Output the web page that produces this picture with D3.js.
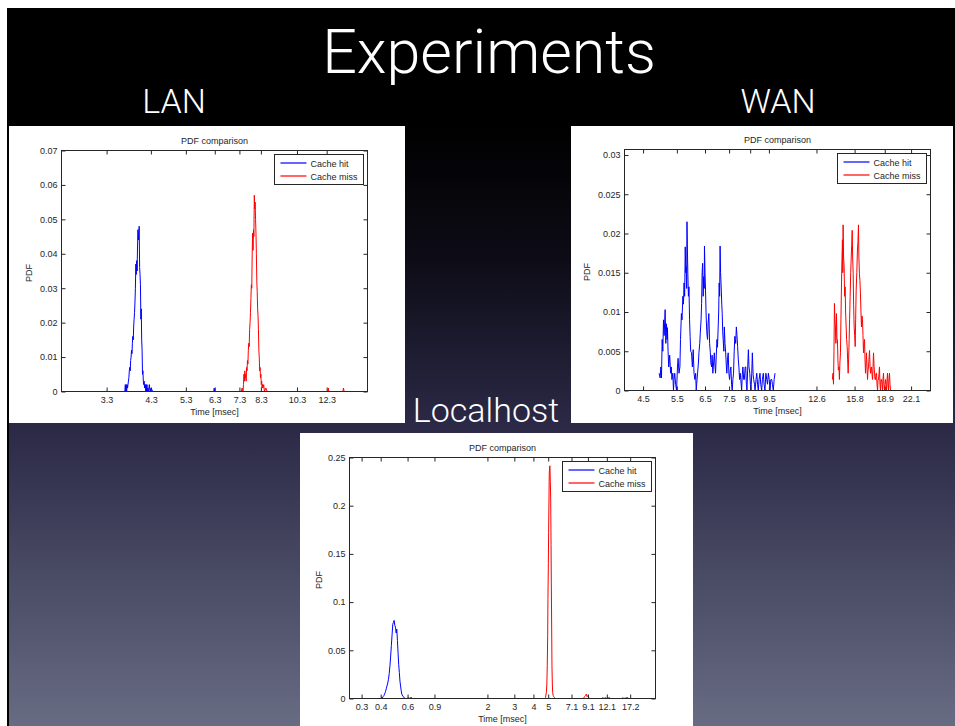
<!DOCTYPE html>
<html><head><meta charset="utf-8">
<script src="https://cdn.jsdelivr.net/npm/d3@7"></script>
<style>body{margin:0;background:#fff;overflow:hidden;} svg{display:block;}</style>
</head><body>
<svg id="c" width="955" height="726"></svg>
<script>
// ---------------- DATA ----------------
const seriesNames = ["Cache hit", "Cache miss"];

// LAN  [time msec, pdf]
const lanHit = [[3.68,0],[3.69,0.002],[3.70,0],[3.71,0.002],[3.72,0],[3.73,0.002],[3.74,0.001],[3.75,0.002],[3.76,0.003],[3.77,0.004],
[3.78,0.006],[3.79,0.007],[3.80,0.006],[3.81,0.009],[3.82,0.010],[3.83,0.012],[3.84,0.011],[3.85,0.014],[3.86,0.016],[3.87,0.015],
[3.88,0.019],[3.89,0.021],[3.90,0.023],[3.91,0.026],[3.92,0.030],[3.93,0.037],[3.94,0.034],[3.95,0.038],[3.96,0.035],[3.97,0.042],
[3.98,0.047],[3.99,0.044],[4.00,0.046],[4.01,0.048],[4.02,0.036],[4.03,0.034],[4.04,0.031],[4.05,0.021],[4.06,0.024],[4.07,0.015],
[4.08,0.012],[4.09,0.005],[4.10,0.006],[4.11,0.003],[4.12,0.002],[4.13,0.003],[4.14,0.001],[4.15,0.002],[4.16,0.002],[4.17,0],
[4.18,0.002],[4.19,0],[4.20,0.002],[4.21,0],[4.22,0.001],[4.24,0],[4.26,0.002],[4.28,0],[4.30,0.001],[4.35,0],
[5.00,0],[6.00,0],[6.26,0],[6.28,0.001],[6.30,0],[6.35,0]];
const lanMiss = [[7.38,0],[7.42,0.001],[7.46,0],[7.48,0.002],[7.50,0.005],[7.52,0.003],[7.54,0.006],[7.56,0.004],[7.58,0.005],[7.60,0.003],
[7.62,0.007],[7.64,0.006],[7.66,0.009],[7.68,0.008],[7.70,0.012],[7.72,0.014],[7.74,0.013],[7.76,0.018],[7.78,0.020],[7.80,0.023],
[7.82,0.027],[7.84,0.031],[7.86,0.030],[7.88,0.040],[7.90,0.046],[7.92,0.041],[7.94,0.047],[7.96,0.045],[7.98,0.057],[8.00,0.053],
[8.02,0.055],[8.04,0.050],[8.06,0.046],[8.08,0.040],[8.10,0.032],[8.12,0.029],[8.14,0.024],[8.16,0.022],[8.18,0.018],[8.20,0.012],
[8.22,0.010],[8.24,0.006],[8.26,0.007],[8.28,0.004],[8.30,0.005],[8.32,0.002],[8.34,0.003],[8.36,0.001],[8.38,0.002],[8.40,0.001],
[8.44,0.002],[8.48,0],[8.55,0.001],[8.62,0],[9.0,0],[10.0,0],[12.0,0],[12.40,0],[12.43,0.001],[12.46,0],
[13.0,0],[13.55,0],[13.6,0.001],[13.65,0],[13.7,0]];

// WAN
const wanHit = [[4.95,0.0022],[4.98,0.0016],[5.00,0.0030],[5.02,0.0016],[5.04,0.0065],[5.06,0.0050],[5.08,0.0090],[5.10,0.0070],[5.13,0.0103],[5.15,0.0060],
[5.17,0.0085],[5.19,0.0065],[5.20,0.0080],[5.22,0.0050],[5.24,0.0030],[5.27,0.0045],[5.30,0.0022],[5.32,0.0030],[5.34,0.0014],[5.37,0.0022],
[5.39,0],[5.41,0.0014],[5.43,0.0022],[5.46,0.0008],[5.49,0],[5.52,0.0030],[5.54,0.0041],[5.57,0.0022],[5.60,0.0030],[5.62,0.0065],
[5.65,0.0098],[5.67,0.0090],[5.70,0.0120],[5.72,0.0110],[5.74,0.0137],[5.76,0.0120],[5.78,0.0183],[5.80,0.0150],[5.81,0.0158],[5.83,0.0130],
[5.84,0.0215],[5.86,0.0170],[5.87,0.0149],[5.89,0.0120],[5.91,0.0132],[5.93,0.0090],[5.95,0.0069],[5.97,0.0050],[6.00,0.0048],[6.03,0.0030],
[6.06,0.0052],[6.09,0.0022],[6.12,0.0014],[6.15,0.0022],[6.17,0],[6.20,0.0014],[6.22,0.0022],[6.25,0.0035],[6.27,0.0048],[6.30,0.0060],
[6.32,0.0073],[6.35,0.0090],[6.37,0.0111],[6.39,0.0150],[6.41,0.0162],[6.43,0.0120],[6.45,0.0145],[6.47,0.0130],[6.48,0.0184],[6.50,0.0150],
[6.52,0.0128],[6.54,0.0100],[6.56,0.0081],[6.58,0.0070],[6.60,0.0065],[6.62,0.0085],[6.65,0.0098],[6.68,0.0060],[6.71,0.0048],[6.73,0.0035],
[6.76,0.0030],[6.78,0.0045],[6.81,0.0022],[6.84,0.0035],[6.87,0.0048],[6.90,0.0030],[6.92,0.0022],[6.95,0.0045],[6.98,0.0065],[7.00,0.0055],
[7.03,0.0081],[7.05,0.0100],[7.07,0.0137],[7.09,0.0120],[7.11,0.0184],[7.13,0.0150],[7.16,0.0128],[7.18,0.0110],[7.20,0.0098],[7.22,0.0075],
[7.24,0.0065],[7.27,0.0050],[7.29,0.0081],[7.32,0.0060],[7.35,0.0048],[7.38,0.0030],[7.40,0.0022],[7.43,0.0040],[7.46,0.0048],[7.49,0.0022],
[7.52,0.0014],[7.55,0.0025],[7.58,0.0030],[7.61,0.0008],[7.64,0],[7.67,0.0014],[7.70,0.0022],[7.73,0.0050],[7.76,0.0069],[7.80,0.0060],
[7.83,0.0081],[7.86,0.0070],[7.89,0.0056],[7.92,0.0040],[7.95,0.0030],[7.98,0.0014],[8.01,0.0022],[8.04,0.0014],[8.08,0],[8.11,0.0020],
[8.14,0.0030],[8.18,0.0014],[8.21,0.0014],[8.25,0.0030],[8.28,0.0030],[8.31,0.0008],[8.34,0],[8.37,0.0025],[8.41,0.0052],[8.44,0.0030],
[8.48,0.0022],[8.51,0.0008],[8.54,0],[8.58,0.0022],[8.61,0.0048],[8.65,0.0020],[8.68,0.0014],[8.72,0.0008],[8.75,0],[8.80,0.0014],
[8.84,0.0022],[8.88,0.0008],[8.92,0],[8.96,0.0014],[9.01,0.0022],[9.05,0.0008],[9.10,0],[9.14,0.0014],[9.19,0.0022],[9.23,0.0008],
[9.28,0],[9.33,0.0022],[9.38,0.0014],[9.42,0.0008],[9.47,0.0022],[9.52,0.0014],[9.56,0],[9.61,0.0014],[9.66,0.0014],[9.70,0.0008],
[9.75,0],[9.80,0.0014],[9.85,0.0022]];
const wanMiss = [[13.85,0.0014],[13.90,0.0022],[13.94,0.0008],[13.98,0.0050],[14.02,0.0111],[14.06,0.0090],[14.10,0.0081],[14.14,0.0060],[14.19,0.0098],[14.23,0.0065],
[14.27,0.0065],[14.31,0.0040],[14.35,0.0026],[14.40,0.0030],[14.44,0.0014],[14.48,0.0035],[14.53,0.0048],[14.57,0.0090],[14.61,0.0128],[14.65,0.0160],
[14.70,0.0192],[14.73,0.0150],[14.76,0.0211],[14.80,0.0170],[14.85,0.0158],[14.89,0.0120],[14.94,0.0132],[14.98,0.0100],[15.03,0.0081],[15.07,0.0065],
[15.12,0.0056],[15.16,0.0040],[15.21,0.0022],[15.25,0.0040],[15.30,0.0065],[15.34,0.0090],[15.39,0.0120],[15.44,0.0150],[15.49,0.0170],[15.53,0.0185],
[15.58,0.0204],[15.62,0.0170],[15.67,0.0149],[15.71,0.0110],[15.76,0.0081],[15.81,0.0070],[15.86,0.0056],[15.90,0.0090],[15.95,0.0128],[16.01,0.0150],
[16.07,0.0179],[16.12,0.0190],[16.17,0.0211],[16.21,0.0170],[16.26,0.0149],[16.31,0.0140],[16.36,0.0124],[16.41,0.0100],[16.46,0.0081],[16.51,0.0095],
[16.56,0.0090],[16.61,0.0070],[16.66,0.0048],[16.71,0.0060],[16.76,0.0065],[16.81,0.0040],[16.86,0.0022],[16.91,0.0035],[16.96,0.0048],[17.01,0.0030],
[17.06,0.0014],[17.11,0.0025],[17.16,0.0030],[17.21,0.0040],[17.27,0.0051],[17.32,0.0030],[17.37,0.0022],[17.42,0.0028],[17.47,0.0030],[17.53,0.0020],
[17.58,0.0014],[17.63,0.0030],[17.68,0.0048],[17.74,0.0030],[17.79,0.0022],[17.84,0.0014],[17.89,0.0014],[17.95,0.0022],[18.00,0.0022],[18.05,0.0008],
[18.11,0],[18.16,0.0014],[18.21,0.0014],[18.27,0.0022],[18.32,0.0030],[18.37,0.0008],[18.43,0],[18.48,0.0014],[18.54,0.0014],[18.60,0.0008],
[18.65,0],[18.70,0.0014],[18.76,0.0022],[18.81,0.0008],[18.87,0],[18.93,0.0008],[18.99,0.0014],[19.04,0.0008],[19.10,0],[19.16,0.0014],
[19.21,0.0022],[19.27,0.0008],[19.33,0],[19.38,0.0014],[19.44,0.0022],[19.50,0.0008],[19.56,0]];

// Localhost
const localHit = [[0.400,0],[0.405,0.001],[0.410,0.0005],[0.415,0.002],[0.420,0.003],[0.425,0.005],[0.430,0.007],[0.435,0.010],[0.440,0.013],[0.445,0.016],
[0.450,0.020],[0.455,0.026],[0.460,0.034],[0.465,0.044],[0.470,0.055],[0.475,0.066],[0.480,0.077],[0.485,0.079],[0.490,0.081],[0.495,0.076],
[0.500,0.074],[0.505,0.068],[0.510,0.072],[0.515,0.060],[0.520,0.047],[0.525,0.035],[0.530,0.027],[0.535,0.018],[0.540,0.013],[0.545,0.008],
[0.550,0.0045],[0.560,0.002],[0.570,0.001],[0.580,0],[0.600,0],[0.606,0.001],[0.612,0],[0.637,0.001],[0.643,0]];
const localMiss = [[4.74,0],[4.80,0.001],[4.86,0.006],[4.90,0.015],[4.93,0.034],[4.96,0.065],[4.98,0.103],[5.01,0.140],[5.03,0.172],[5.06,0.210],
[5.08,0.234],[5.11,0.240],[5.13,0.2414],[5.16,0.225],[5.19,0.207],[5.22,0.160],[5.24,0.120],[5.27,0.070],[5.29,0.034],[5.32,0.015],
[5.35,0.006],[5.39,0.003],[5.43,0.002],[5.50,0.001],[5.56,0],[7.0,0],[8.5,0],[8.65,0.002],[8.76,0.003],[8.87,0.0045],
[8.98,0.002],[9.09,0.003],[9.2,0.001],[9.37,0],[11.2,0],[11.40,0.001],[11.6,0],[11.92,0.001],[12.1,0],[12.61,0.001],
[12.8,0],[15.2,0],[15.40,0.001],[15.6,0],[16.0,0.0005],[16.60,0.001],[16.8,0],[21.87,0]];

// Tick values / labels
const lanXTicks = [3.3,4.3,5.3,6.3,7.3,8.3,10.3,12.3];
const lanYTicks = [0,0.01,0.02,0.03,0.04,0.05,0.06,0.07];
const lanYLabels = ["0","0.01","0.02","0.03","0.04","0.05","0.06","0.07"];
const wanXTicks = [4.5,5.5,6.5,7.5,8.5,9.5,12.6,15.8,18.9,22.1];
const wanYTicks = [0,0.005,0.01,0.015,0.02,0.025,0.03];
const wanYLabels = ["0","0.005","0.01","0.015","0.02","0.025","0.03"];
const localXTicks = [0.3,0.4,0.6,0.9,2,3,4,5,7.1,9.1,12.1,17.2];
const localYTicks = [0,0.05,0.1,0.15,0.2,0.25];
const localYLabels = ["0","0.05","0.1","0.15","0.2","0.25"];

// ---------------- DRAW ----------------
const FONT = "'Liberation Sans', Arial, Helvetica, sans-serif";
const SLIDE_FONT = "Roboto, 'Liberation Sans', sans-serif";
const svg = d3.select("#c");
const defs = svg.append("defs");
const grad = defs.append("linearGradient").attr("id","bg").attr("x1",0).attr("y1",0).attr("x2",0).attr("y2",1);
[[0,"#000000"],[0.164,"#000000"],[0.35,"#0d0c16"],[0.581,"#2b2946"],[1,"#686c83"]].forEach(s=>
  grad.append("stop").attr("offset",s[0]).attr("stop-color",s[1]));

svg.append("rect").attr("x",0).attr("y",0).attr("width",955).attr("height",726).attr("fill","#fff");
svg.append("rect").attr("x",7).attr("y",8).attr("width",948).attr("height",718).attr("fill","url(#bg)");
svg.append("rect").attr("x",7).attr("y",8).attr("width",2).attr("height",718).attr("fill","#000");

function slideText(t, x, y, size) {
  svg.append("text").attr("x",x).attr("y",y).attr("text-anchor","middle")
    .attr("font-family",SLIDE_FONT).attr("font-size",size).attr("font-weight",300)
    .attr("fill","#fff").text(t);
}
slideText("Experiments", 489, 73, 61);
slideText("LAN", 174, 113, 34);
slideText("WAN", 778, 113, 34);
slideText("Localhost", 486, 422, 34);

function drawChart(cfg, idx) {
  const g = svg.append("g");
  g.append("rect").attr("x",cfg.panel[0]).attr("y",cfg.panel[1]).attr("width",cfg.panel[2]).attr("height",cfg.panel[3]).attr("fill","#fff");
  const [L,T,R,B] = cfg.plot;
  const x = d3.scaleLog().domain(cfg.xDomain).range([L,R]);
  const y = d3.scaleLinear().domain(cfg.yDomain).range([B,T]);

  defs.append("clipPath").attr("id","clip"+idx).append("rect").attr("x",L).attr("y",T).attr("width",R-L).attr("height",B-T);
  const line = d3.line().x(d=>x(d[0])).y(d=>y(d[1]));
  const lg = g.append("g").attr("clip-path",`url(#clip${idx})`);
  lg.append("path").datum(cfg.hit).attr("d",line).attr("fill","none").attr("stroke","#0000ff").attr("stroke-width",1);
  lg.append("path").datum(cfg.miss).attr("d",line).attr("fill","none").attr("stroke","#ff0000").attr("stroke-width",1);

  const styleAxis = sel => {
    sel.select(".domain").remove();
    sel.selectAll(".tick line").attr("stroke","#262626");
    sel.selectAll("text").attr("font-family",FONT).attr("font-size",9).attr("fill","#262626");
  };
  g.append("g").attr("transform",`translate(0,${B})`)
    .call(d3.axisBottom(x).tickValues(cfg.xTicks).tickFormat(d=>String(d)).tickSizeInner(-4).tickSizeOuter(0).tickPadding(5))
    .call(styleAxis);
  g.append("g").attr("transform",`translate(0,${T})`)
    .call(d3.axisTop(x).tickValues(cfg.xTicks).tickFormat("").tickSizeInner(-4).tickSizeOuter(0))
    .call(styleAxis);
  g.append("g").attr("transform",`translate(${L},0)`)
    .call(d3.axisLeft(y).tickValues(cfg.yTicks).tickFormat((d,i)=>cfg.yLabels[i]).tickSizeInner(-4).tickSizeOuter(0).tickPadding(4))
    .call(styleAxis);
  g.append("g").attr("transform",`translate(${R},0)`)
    .call(d3.axisRight(y).tickValues(cfg.yTicks).tickFormat("").tickSizeInner(-4).tickSizeOuter(0))
    .call(styleAxis);
  g.append("rect").attr("x",L).attr("y",T).attr("width",R-L).attr("height",B-T)
    .attr("fill","none").attr("stroke","#262626").attr("stroke-width",1);

  g.append("text").attr("x",(L+R)/2).attr("y",T-7).attr("text-anchor","middle")
    .attr("font-family",FONT).attr("font-size",9).attr("fill","#262626").text("PDF comparison");
  g.append("text").attr("x",(L+R)/2).attr("y",B+23.5).attr("text-anchor","middle")
    .attr("font-family",FONT).attr("font-size",9).attr("fill","#262626").text("Time [msec]");
  g.append("text").attr("transform",`translate(${cfg.yLabelX+3.2},${(T+B)/2+2})rotate(-90)`).attr("text-anchor","middle")
    .attr("font-family",FONT).attr("font-size",9).attr("fill","#262626").text("PDF");

  const lw = 89, lh = 30;
  const lx = R - 4 - lw, ly = T + 4;
  const leg = g.append("g");
  leg.append("rect").attr("x",lx).attr("y",ly).attr("width",lw).attr("height",lh)
    .attr("fill","#fff").attr("stroke","#262626").attr("stroke-width",1);
  const cols = ["#0000ff","#ff0000"];
  seriesNames.forEach((n,i)=>{
    const ry = ly + 8.5 + i*13;
    leg.append("line").attr("x1",lx+6).attr("x2",lx+32).attr("y1",ry).attr("y2",ry).attr("stroke",cols[i]).attr("stroke-width",1.2);
    leg.append("text").attr("x",lx+36).attr("y",ry+3.5).attr("font-family",FONT).attr("font-size",9).attr("fill","#262626").text(n);
  });
}

drawChart({panel:[9,126,396,297], plot:[61.5,150.5,367.5,391.5], xDomain:[2.52,15.7], yDomain:[0,0.07],
  hit:lanHit, miss:lanMiss, xTicks:lanXTicks, yTicks:lanYTicks, yLabels:lanYLabels, yLabelX:29}, 0);
drawChart({panel:[571,126,382,297], plot:[624.5,149.5,930.5,390.5], xDomain:[4.03,24.8], yDomain:[0,0.0307],
  hit:wanHit, miss:wanMiss, xTicks:wanXTicks, yTicks:wanYTicks, yLabels:wanYLabels, yLabelX:587}, 1);
drawChart({panel:[300,433,393,293], plot:[349.5,457.5,655.5,698.5], xDomain:[0.25,25.2], yDomain:[0,0.25],
  hit:localHit, miss:localMiss, xTicks:localXTicks, yTicks:localYTicks, yLabels:localYLabels, yLabelX:318.7}, 2);
</script>
</body></html>
